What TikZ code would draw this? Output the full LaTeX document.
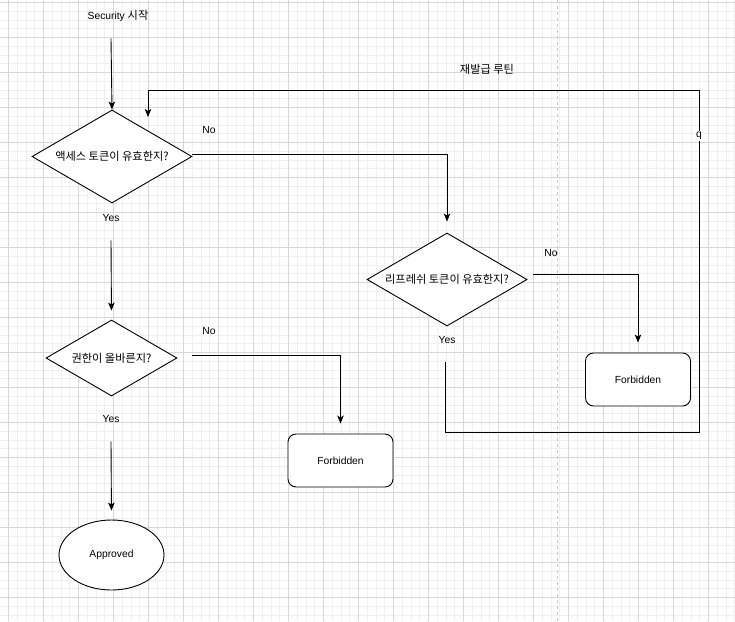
\documentclass[tikz,border=0pt]{standalone}
\usepackage{fontspec}
\setmainfont{Liberation Sans}
\newfontfamily\kr{Noto Sans CJK KR}
\usetikzlibrary{shapes.geometric,arrows.meta}
\definecolor{minorgrid}{HTML}{F0F0F0}
\definecolor{majorgrid}{HTML}{D8D8D8}
\definecolor{pagebreak}{HTML}{C8C8C8}
\newcommand\lblfont{\fontsize{10.3}{12.4}\selectfont}
\newcommand\krfont{\kr\fontsize{11.2}{13}\selectfont}
\tikzstyle{decision}=[diamond,draw,fill=white,shape aspect=1.72,inner sep=0pt,minimum width=160pt,minimum height=93pt,font=\krfont]
\tikzstyle{block}=[rectangle,draw,fill=white,rounded corners=8pt,minimum width=105pt,minimum height=53pt]
\tikzstyle{endstate}=[ellipse,draw,fill=white,minimum width=105pt,minimum height=70pt,inner sep=0pt]
\tikzstyle{lbl}=[minimum height=44pt,inner sep=0pt]
\tikzstyle{flow}=[-{Stealth[length=8pt,width=6.5pt,inset=2pt]}]

\begin{document}
\begin{tikzpicture}[x=1pt,y=-1pt,line width=0.9pt,font=\lblfont]
\useasboundingbox (0,0) rectangle (735,621);
% grid
\begin{scope}
\clip (0,0) rectangle (735,621);
\foreach \i in {0,...,84} \draw[minorgrid,line width=0.6pt] ({-0.45+8.75*\i},0) -- ++(0,621);
\foreach \j in {0,...,72} \draw[minorgrid,line width=0.6pt] (0,{-6.45+8.75*\j}) -- ++(735,0);
\foreach \i in {0,...,20} \draw[majorgrid,line width=0.8pt] ({8.3+35*\i},0) -- ++(0,621);
\foreach \j in {0,...,17} \draw[majorgrid,line width=0.8pt] (0,{2.3+35*\j}) -- ++(735,0);
\end{scope}
\draw[pagebreak,dash pattern=on 3pt off 3pt,line width=1pt] (557,0) -- (557,621);

  \node[lbl] (start) at (118,16) {Security {\krfont 시작}};
  \node[decision] (d1) at (112,156.5) {액세스 토큰이 유효한지?};
  \node[decision] (d2) at (447,279.5) {리프레쉬 토큰이 유효한지?};
  \node[decision,minimum width=131pt,minimum height=76pt] (d3) at (111.5,358) {권한이 올바른지?};
  \node[block] (fb1) at (340.5,460.5) {Forbidden};
  \node[block] (fb2) at (638,379.5) {Forbidden};
  \node[endstate] (ok) at (111.5,555) {Approved};

  \node (no1) at (209,130) {No};
  \node[lbl] (yes1) at (111,218) {Yes};
  \node (no3) at (209,331) {No};
  \node[lbl] (yes3) at (111,419) {Yes};
  \node (no2) at (551,253) {No};
  \node[lbl] (yes2) at (447,340) {Yes};
  \node[font=\krfont] (renew) at (487,69) {재발급 루틴};
  \coordinate (c2) at (699,432);
  \coordinate (c3) at (699,90);
  \coordinate (loopend) at (148,117);

\draw[flow] ([xshift=-7pt]start.south) -- (d1.north);
\draw[flow,shorten >=11pt] ([yshift=2pt]d1.east) -| (d2.north);
\draw[flow,shorten >=9pt] (yes1.south) -- (d3.north);
\draw[flow,shorten <=15pt,shorten >=10pt] ([yshift=3pt]d3.east) -| (fb1.north);
\draw[flow,shorten >=9pt] (yes3.south) -- (ok.north);
\draw[flow,shorten <=6pt,shorten >=10pt] ([yshift=5pt]d2.east) -| (fb2.north);
\draw[flow] ([xshift=-2pt]yes2.south) |- (c2) -- node[pos=0.865,fill=white,inner sep=1pt] (q) {q} (c3) -| (loopend);
\end{tikzpicture}
\end{document}
